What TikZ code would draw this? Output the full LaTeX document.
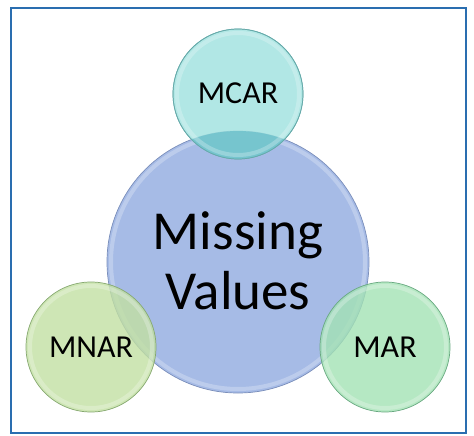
\documentclass[tikz,border=0pt]{standalone}
\usepackage{fontspec}
\setmainfont{Carlito}
\definecolor{frameblue}{HTML}{2A6EB0}
\definecolor{bigfill}{HTML}{A6BBE6}
\definecolor{bigedge}{HTML}{7A8EBA}
\definecolor{mcarfill}{HTML}{A3E3E0}
\definecolor{mcaredge}{HTML}{66AAAA}
\definecolor{mcarover}{HTML}{72C3CD}
\definecolor{mnarfill}{HTML}{C2E0A2}
\definecolor{mnaredge}{HTML}{86A870}
\definecolor{marfill}{HTML}{A3E2B4}
\definecolor{maredge}{HTML}{68A880}
\tikzset{
  bubble/.style={circle, inner sep=0pt, draw, line width=0.7pt, text=black},
  rim/.style={line width=4pt, draw=white, draw opacity=0.25},
  small/.style={font=\fontsize{32}{34}\selectfont, inner sep=0pt},
}
\begin{document}
\begin{tikzpicture}[x=1pt,y=-1pt]
\useasboundingbox (0,0) rectangle (474,436);
\draw[frameblue, line width=2pt] (11,8) rectangle (466,433);
% big circle
\node[bubble, minimum size=262pt, fill=bigfill, draw=bigedge] (mv) at (238,262) {};
\draw[rim] (mv.center) circle (127);
% MCAR
\node[bubble, minimum size=130pt, fill=mcarfill, draw=mcaredge, fill opacity=0.85] (mcar) at (238,94) {};
\begin{scope}
  \clip (mv.center) circle (131);
  \fill[mcarover, fill opacity=0.9] (mcar.center) circle (65);
\end{scope}
\draw[rim] (mcar.center) circle (61);
\draw[mcaredge, line width=0.7pt] (mcar.center) circle (65);
% MNAR
\node[bubble, minimum size=130pt, fill=mnarfill, draw=mnaredge, fill opacity=0.8] (mnar) at (91,347) {};
\draw[rim] (mnar.center) circle (61);
% MAR
\node[bubble, minimum size=130pt, fill=marfill, draw=maredge, fill opacity=0.8] (mar) at (385,347) {};
\draw[rim] (mar.center) circle (61);
% texts
\node[font=\fontsize{55}{60}\selectfont, align=center, inner sep=0pt] (mvt) at (238,261) {Missing\\Values};
\node[small] (mcart) at (238,93) {MCAR};
\node[small] (mnart) at (91,347) {MNAR};
\node[small] (mart) at (385,347) {MAR};
\end{tikzpicture}
\end{document}
